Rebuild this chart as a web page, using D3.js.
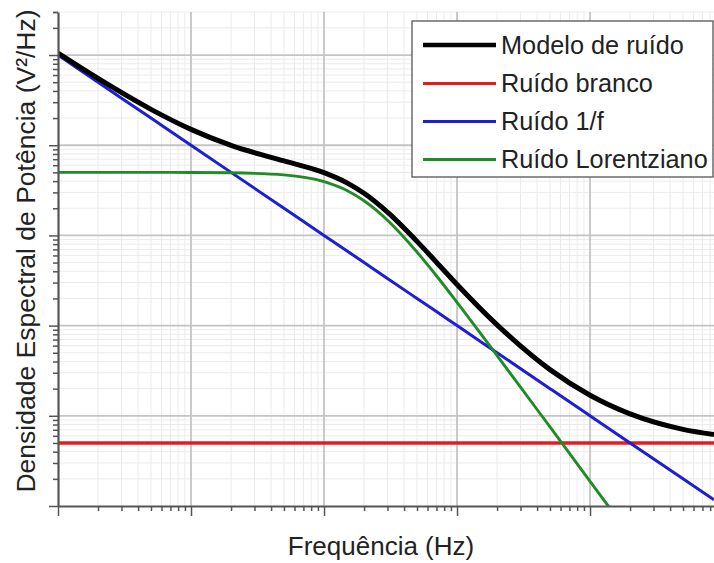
<!DOCTYPE html>
<html>
<head>
<meta charset="utf-8">
<script src="https://cdn.jsdelivr.net/npm/d3@7"></script>
<style>
  html, body { margin: 0; padding: 0; background: #fff; }
  svg { display: block; font-family: "Liberation Sans", Arial, sans-serif; }
</style>
</head>
<body>
<svg id="chart" width="714" height="563"></svg>
<script>
// Frequency samples (Hz) where the spectra are evaluated
const freqs = [1, 2, 5, 10, 20, 50, 100, 150, 200, 300, 500, 700, 1000, 2000, 5000, 10000, 20000, 50000, 85500];

// Power spectral density of each component (V²/Hz)
const whiteNoise = [5e-6, 5e-6, 5e-6, 5e-6, 5e-6, 5e-6, 5e-6, 5e-6, 5e-6, 5e-6, 5e-6, 5e-6, 5e-6, 5e-6, 5e-6, 5e-6, 5e-6, 5e-6, 5e-6];
const flickerNoise = [0.1, 0.05, 0.02, 0.01, 5e-3, 2e-3, 1e-3, 6.67e-4, 5e-4, 3.33e-4, 2e-4, 1.43e-4, 1e-4, 5e-5, 2e-5, 1e-5, 5e-6, 2e-6, 1.17e-6];
const lorentzNoise = [5e-3, 5e-3, 4.997e-3, 4.987e-3, 4.947e-3, 4.69e-3, 3.95e-3, 3.13e-3, 2.42e-3, 1.474e-3, 6.54e-4, 3.57e-4, 1.81e-4, 4.66e-5, 7.52e-6, 1.88e-6, 4.7e-7, 7.5e-8, 2.6e-8];
const totalNoise = [0.105, 0.055, 0.025, 0.01499, 0.00995, 0.00669, 0.00496, 0.0038, 0.00293, 0.00181, 8.59e-4, 5.05e-4, 2.86e-4, 1.02e-4, 3.25e-5, 1.69e-5, 1.05e-5, 7.08e-6, 6.2e-6];

// Legend entries
const legendLabels = ["Modelo de ruído", "Ruído branco", "Ruído 1/f", "Ruído Lorentziano"];
const legendColors = ["#000000", "#e61c1e", "#1e1ed2", "#238a28"];
const legendWidths = [4.5, 3.2, 3.2, 3.2];

const xLabel = "Frequência (Hz)";
const yLabel = "Densidade Espectral de Potência (V²/Hz)";

const svg = d3.select("#chart");
const plotL = 58, plotR = 714, plotT = 12, plotB = 506;

const x = d3.scaleLog().domain([1, 85500]).range([plotL, plotR]);
const y = d3.scaleLog().domain([1e-6, 0.3]).range([plotB, plotT]);

const isMajor = v => Math.abs(Math.log10(v) - Math.round(Math.log10(v))) < 1e-9;
const xTicks = x.ticks();
const yTicks = y.ticks();

// Grid: light minor lines first, then the decade lines
const grid = svg.append("g");
[false, true].forEach(major => {
  grid.selectAll(null).data(xTicks.filter(v => isMajor(v) === major && x(v) > plotL + 0.5))
    .join("line")
    .attr("x1", d => x(d)).attr("x2", d => x(d))
    .attr("y1", plotT).attr("y2", plotB)
    .attr("stroke", major ? "#c4c4c4" : "#ebebeb")
    .attr("stroke-width", major ? 1.8 : 1);
  grid.selectAll(null).data(yTicks.filter(v => isMajor(v) === major && y(v) < plotB - 0.5))
    .join("line")
    .attr("x1", plotL).attr("x2", plotR)
    .attr("y1", d => y(d)).attr("y2", d => y(d))
    .attr("stroke", major ? "#c4c4c4" : "#ebebeb")
    .attr("stroke-width", major ? 1.8 : 1);
});

// Curves
svg.append("clipPath").attr("id", "plotClip")
  .append("rect").attr("x", plotL).attr("y", plotT).attr("width", plotR - plotL).attr("height", plotB - plotT);

const line = d3.line()
  .x(d => x(d[0]))
  .y(d => y(d[1]))
  .curve(d3.curveMonotoneX);

const seriesList = [
  { values: whiteNoise, color: legendColors[1], width: 3.5 },
  { values: flickerNoise, color: legendColors[2], width: 3 },
  { values: lorentzNoise, color: legendColors[3], width: 2.9 },
  { values: totalNoise, color: legendColors[0], width: 5 }
];

const plot = svg.append("g").attr("clip-path", "url(#plotClip)");
seriesList.forEach(s => {
  plot.append("path")
    .datum(freqs.map((f, i) => [f, s.values[i]]))
    .attr("d", line)
    .attr("fill", "none")
    .attr("stroke", s.color)
    .attr("stroke-width", s.width)
    .attr("stroke-linejoin", "round");
});

// Axes (no tick labels), decade ticks longer than the minor ones
const xAxis = svg.append("g").attr("transform", `translate(0,${plotB})`)
  .call(d3.axisBottom(x).tickValues(xTicks).tickFormat("").tickSizeOuter(0));
xAxis.selectAll(".tick line").attr("y2", d => isMajor(d) ? 10 : 5);

const yAxis = svg.append("g").attr("transform", `translate(${plotL},0)`)
  .call(d3.axisLeft(y).tickValues(yTicks.concat([0.3])).tickFormat("").tickSizeOuter(0));
yAxis.selectAll(".tick line").attr("x2", d => isMajor(d) ? -9 : -5);

[xAxis, yAxis].forEach(a => {
  a.select(".domain").attr("stroke", "#555").attr("stroke-width", 2.2);
  a.selectAll(".tick line").attr("stroke", "#555").attr("stroke-width", 1.5);
});

// Axis titles
svg.append("text")
  .attr("x", 381).attr("y", 555)
  .attr("text-anchor", "middle")
  .attr("font-size", 26)
  .attr("fill", "#222")
  .text(xLabel);

svg.append("text")
  .attr("transform", "translate(35,251) rotate(-90)")
  .attr("text-anchor", "middle")
  .attr("font-size", 26.5)
  .attr("fill", "#222")
  .text(yLabel);

// Legend
const legend = svg.append("g");
legend.append("rect")
  .attr("x", 412).attr("y", 21).attr("width", 301).attr("height", 156)
  .attr("fill", "#fff").attr("stroke", "#555").attr("stroke-width", 1.3);

const rowY = [45, 83.5, 121.5, 159.5];
legendLabels.forEach((lab, i) => {
  legend.append("line")
    .attr("x1", 423).attr("x2", 496)
    .attr("y1", rowY[i]).attr("y2", rowY[i])
    .attr("stroke", legendColors[i]).attr("stroke-width", legendWidths[i]);
  legend.append("text")
    .attr("x", 501).attr("y", rowY[i] + 8.5)
    .attr("font-size", 25.3)
    .attr("fill", "#222")
    .text(lab);
});
</script>
</body>
</html>
